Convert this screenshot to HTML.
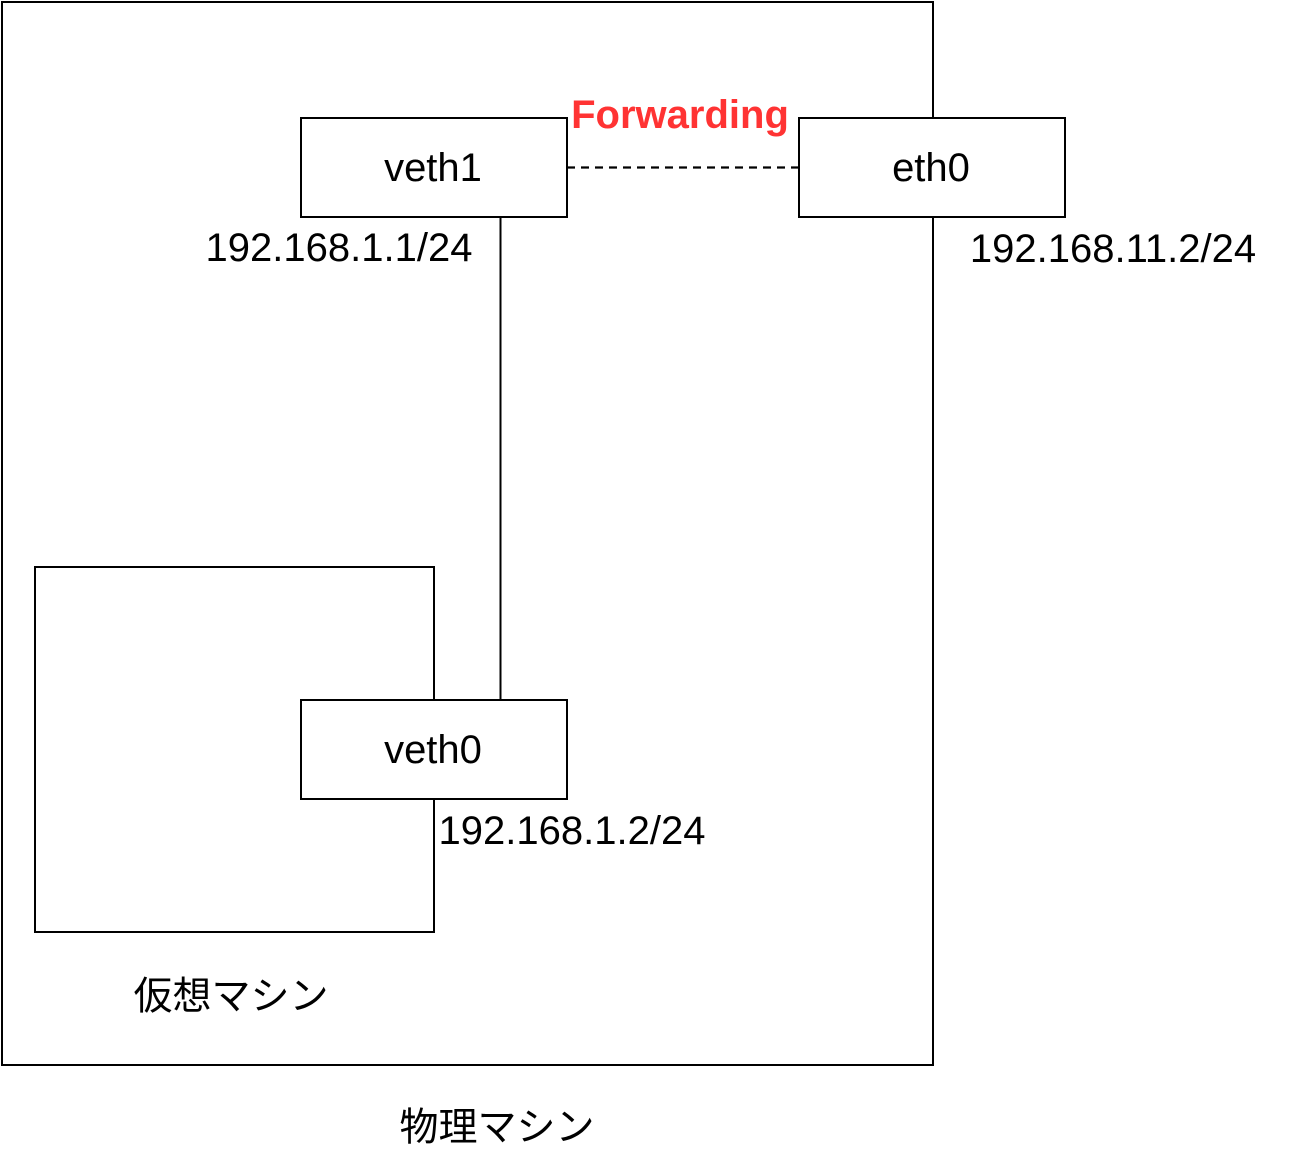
<!DOCTYPE html>
<html>
<head>
<meta charset="utf-8">
<style>
  html, body { margin: 0; padding: 0; background: #ffffff; }
  body { width: 1300px; height: 1167px; overflow: hidden; }
  svg { display: block; }
  text { font-family: "Liberation Sans", "Noto Sans CJK JP", sans-serif; }
</style>
</head>
<body>
<svg width="1300" height="1167" viewBox="0 0 1300 1167" xmlns="http://www.w3.org/2000/svg">
  <rect x="0" y="0" width="1300" height="1167" fill="#ffffff"/>

  <!-- Physical machine outer box -->
  <rect x="2" y="2" width="931" height="1063" fill="none" stroke="#000" stroke-width="2"/>

  <!-- Virtual machine box -->
  <rect x="35" y="567" width="399" height="365" fill="none" stroke="#000" stroke-width="2"/>

  <!-- connector veth1 - veth0 -->
  <line x1="500.5" y1="217" x2="500.5" y2="700" stroke="#000" stroke-width="2"/>

  <!-- dashed forwarding connector -->
  <line x1="567" y1="167.5" x2="799" y2="167.5" stroke="#000" stroke-width="2.2" stroke-dasharray="8 6"/>

  <!-- veth1 -->
  <rect x="301" y="118" width="266" height="99" fill="#fff" stroke="#000" stroke-width="2"/>
  <text x="433" y="181" font-size="40" text-anchor="middle" fill="#000">veth1</text>

  <!-- eth0 -->
  <rect x="799" y="118" width="266" height="99" fill="#fff" stroke="#000" stroke-width="2"/>
  <text x="931" y="181" font-size="40" text-anchor="middle" fill="#000">eth0</text>

  <!-- veth0 -->
  <rect x="301" y="700" width="266" height="99" fill="#fff" stroke="#000" stroke-width="2"/>
  <text x="433" y="763" font-size="40" text-anchor="middle" fill="#000">veth0</text>

  <!-- Forwarding label -->
  <text x="680" y="128" font-size="40" font-weight="bold" text-anchor="middle" fill="#ff3333">Forwarding</text>

  <!-- IP labels -->
  <text x="339" y="261" font-size="40" text-anchor="middle" fill="#000">192.168.1.1/24</text>
  <text x="1113" y="262" font-size="40" text-anchor="middle" fill="#000">192.168.11.2/24</text>
  <text x="572" y="844" font-size="40" text-anchor="middle" fill="#000">192.168.1.2/24</text>

  <!-- Japanese labels -->
  <text x="231" y="997" font-size="39" text-anchor="middle" dominant-baseline="central" fill="#000">仮想マシン</text>
  <text x="497" y="1128" font-size="39" text-anchor="middle" dominant-baseline="central" fill="#000">物理マシン</text>
</svg>
</body>
</html>
